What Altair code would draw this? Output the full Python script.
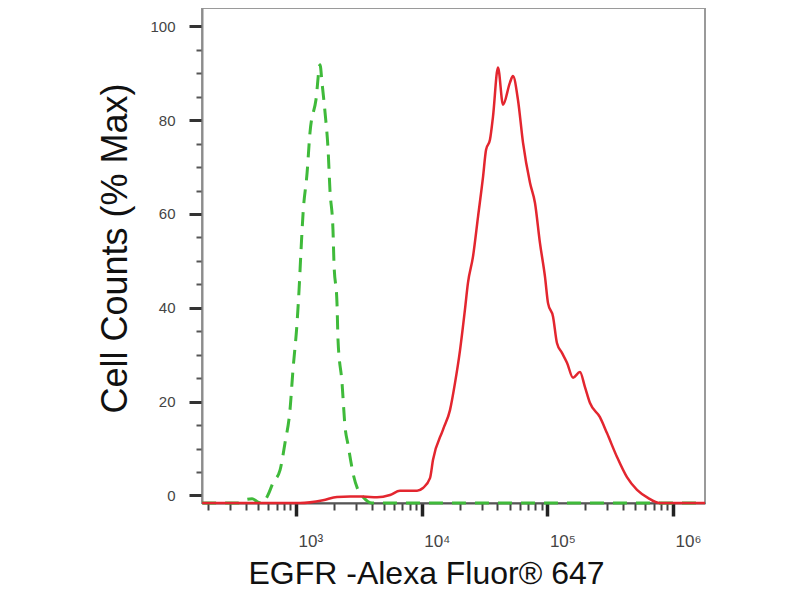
import altair as alt
import pandas as pd

# ---- data ----
# red: EGFR stained sample (fluorescence intensity, % of max)
red_x = [179, 1076, 1641, 2118, 2692, 3412, 4406, 5598, 6714, 9183, 10233, 11641,
         12303, 14757, 16788, 18408, 20184, 22080, 23335, 25586, 28054, 30761,
         32509, 34914, 36898, 40458, 44361, 50350, 53211, 58345, 63973, 72778,
         79616, 87297, 95719, 101158, 110917, 119124, 130617, 143219, 159956,
         181551, 199067, 218273, 261818, 297852, 358096, 429536, 516416, 630957,
         787046, 1794700]
red_y = [-1.6, -1.6, -1.0, -0.3, -0.2, -0.2, -0.4, 0.1, 1.0, 1.0, 1.6, 3.7,
         7.6, 14.0, 18.2, 24.0, 31.0, 39.6, 45.3, 50.9, 59.4, 67.9,
         73.7, 75.8, 80.7, 91.2, 83.3, 88.0, 89.4, 84.3, 75.2, 66.6,
         62.4, 53.8, 46.6, 41.0, 38.1, 32.5, 30.4, 28.3, 25.1,
         26.3, 23.1, 19.7, 16.7, 13.3, 8.2, 3.9, 1.2, -0.5,
         -1.6, -1.6]

# green: isotype / unstained control (dashed)
green_x = [179, 346, 393, 447, 499, 537, 598, 656, 746, 817, 895, 946, 1019, 1057,
           1096, 1138, 1225, 1291, 1442, 1552, 1611, 1702, 1799, 1862, 1968, 2004,
           2118, 2158, 2323, 2455, 2594, 2692, 2838, 3112, 3412, 4027, 1794700]
green_y = [-1.6, -1.6, -0.9, -0.7, -1.4, -1.6, 0.1, 2.7, 5.4, 11.2, 18.2, 26.8, 36.8, 43.8,
           52.3, 60.2, 68.8, 77.3, 84.4, 91.8, 87.9, 81.6, 73.7, 65.1, 56.6, 49.6,
           41.0, 33.2, 24.0, 14.6, 10.8, 8.2, 4.8, 1.2, -0.3, -1.6, -1.6]

x_major = [1000, 10000, 100000, 1000000]
x_major_labels = ["10³", "10⁴", "10⁵", "10⁶"]
x_minor = [m * 10 ** e for e in (2, 3, 4, 5) for m in range(2, 10)]
y_major = [0, 20, 40, 60, 80, 100]
y_minor = [v for v in range(5, 100, 5) if v % 20 != 0]

x_title = "EGFR -Alexa Fluor® 647"
y_title = "Cell Counts (% Max)"

red_df = pd.DataFrame({"x": red_x, "y": red_y, "i": range(len(red_x))})
green_df = pd.DataFrame({"x": green_x, "y": green_y, "i": range(len(green_x))})

xscale = alt.Scale(type="log", domain=[178.6, 1794700], nice=False)
yscale = alt.Scale(domain=[-1.6, 103.9], nice=False, zero=False)

label_expr = " : ".join(
    f"datum.value == {v} ? '{t}'" for v, t in zip(x_major, x_major_labels)
) + " : ''"

FONT = "Liberation Sans, Arial, DejaVu Sans"

# layer with the minor ticks
green = alt.Chart(green_df).mark_line(
    color="#3fba3a", strokeWidth=3, strokeDash=[14, 9], interpolate="monotone"
).encode(
    x=alt.X("x:Q", scale=xscale, axis=alt.Axis(
        orient="bottom", values=x_minor, labels=False, domain=False, title=None,
        tickSize=7, tickWidth=2, tickColor="#444", grid=False)),
    y=alt.Y("y:Q", scale=yscale, axis=alt.Axis(
        orient="left", values=y_minor, labels=False, domain=False, title=None,
        tickSize=6, tickWidth=2, tickColor="#555", grid=False)),
    order="i:Q",
)

# layer with the major ticks, labels and titles
red = alt.Chart(red_df).mark_line(
    color="#e3262f", strokeWidth=2.5, interpolate="monotone"
).encode(
    x=alt.X("x:Q", scale=xscale, axis=alt.Axis(
        orient="bottom", values=x_major, labelExpr=label_expr,
        labelFont=FONT, labelFontSize=17, labelColor="#444",
        labelAlign="left", labelOffset=2, labelBaseline="alphabetic",
        labelPadding=30, labelFlush=False, labelOverlap=False,
        tickSize=13, tickWidth=3.5, tickColor="#222",
        domainColor="#555", domainWidth=2, grid=False,
        title=x_title, titleFont=FONT, titleFontSize=32, titleFontWeight="normal",
        titleColor="#111", titleX=224, titleY=80, titleAlign="center",
        titleBaseline="alphabetic")),
    y=alt.Y("y:Q", scale=yscale, axis=alt.Axis(
        orient="left", values=y_major,
        labelFont=FONT, labelFontSize=15, labelColor="#444", labelPadding=14,
        tickSize=13, tickWidth=3, tickColor="#333",
        domainColor="#8c8c8c", domainWidth=2, grid=False,
        title=y_title, titleFont=FONT, titleFontSize=36, titleFontWeight="normal",
        titleColor="#111", titleAngle=270, titleX=-76, titleY=240,
        titleAlign="center", titleBaseline="alphabetic")),
    order="i:Q",
)

chart = alt.layer(green, red).resolve_scale(
    x="shared", y="shared"
).resolve_axis(
    x="independent", y="independent"
).properties(
    width=503, height=495, autosize="none",
    padding={"left": 194, "top": 0, "right": 80, "bottom": 89},
    background="white",
).configure_view(
    stroke="#9a9a9a", strokeWidth=2
)

chart.save("out.html", embed_options={"renderer": "svg", "actions": False})
